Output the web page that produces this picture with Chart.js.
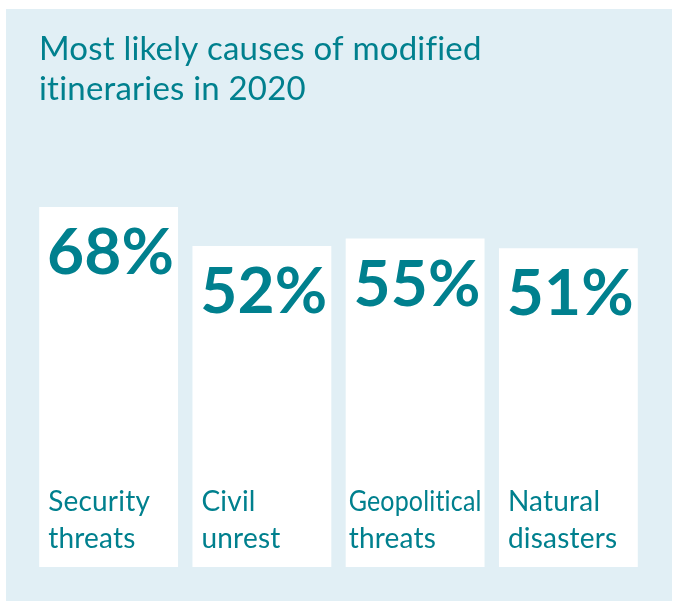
<!DOCTYPE html>
<html>
<head>
<meta charset="utf-8">
<script src="https://cdn.jsdelivr.net/npm/chart.js@4"></script>
<style>
  html, body { margin: 0; padding: 0; background: #ffffff; }
  #wrap { width: 676px; height: 603px; position: relative; }
</style>
</head>
<body>
<div id="wrap"><canvas id="causes"></canvas></div>
<script>
// datos del gráfico
const titleLines = ['Most likely causes of modified', 'itineraries in 2020'];
const categories = [['Security', 'threats'], ['Civil', 'unrest'], ['Geopolitical', 'threats'], ['Natural', 'disasters']];
const percentages = [68, 52, 55, 51];

const TEAL = '#00808e';
const PANEL = '#e1eff5';

// fondo azul claro + título
const panelPlugin = {
    id: 'panel',
    beforeDraw(chart) {
        const ctx = chart.ctx;
        ctx.save();
        ctx.fillStyle = PANEL;
        ctx.fillRect(6, 9, 666, 592);
        ctx.fillStyle = TEAL;
        ctx.font = '33px Lato';
        ctx.letterSpacing = '0.2px'; // evita las ligaduras "ti"
        ctx.textBaseline = 'alphabetic';
        ctx.textAlign = 'left';
        titleLines.forEach((line, i) => ctx.fillText(line, 39, 60 + i * 40));
        ctx.restore();
    }
};

// etiquetas dentro de cada barra
const labelsPlugin = {
    id: 'barLabels',
    afterDatasetsDraw(chart) {
        const ctx = chart.ctx;
        const meta = chart.getDatasetMeta(0);
        ctx.save();
        ctx.fillStyle = TEAL;
        ctx.letterSpacing = '0.2px';
        meta.data.forEach((bar, i) => {
            const left = bar.x - bar.width / 2;
            ctx.font = 'bold 64px Lato';
            ctx.textAlign = 'center';
            ctx.textBaseline = 'alphabetic';
            ctx.fillText(percentages[i] + '%', bar.x + 2, bar.y + 67);
            ctx.font = '28px Lato';
            ctx.textAlign = 'left';
            const widest = Math.max(...categories[i].map(l => ctx.measureText(l).width));
            const x = widest > bar.width - 18 ? left + 3 : left + 9;
            categories[i].forEach((line, j) => {
                ctx.fillText(line, x, bar.base - 56 + j * 37, bar.width - 6);
            });
        });
        ctx.restore();
    }
};

new Chart(document.getElementById('causes'), {
    type: 'bar',
    data: {
        labels: categories.map(c => c.join(' ')),
        datasets: [{
            data: percentages,
            base: -80,
            backgroundColor: '#ffffff',
            borderWidth: 0,
            categoryPercentage: 1,
            barPercentage: 0.906
        }]
    },
    options: {
        responsive: true,
        maintainAspectRatio: false,
        animation: false,
        layout: { padding: { left: 32, right: 31, top: 207, bottom: 36 } },
        plugins: { legend: { display: false }, tooltip: { enabled: false }, title: { display: false } },
        scales: {
            x: { display: false },
            y: { display: false, min: -80, max: 68 }
        }
    },
    plugins: [panelPlugin, labelsPlugin]
});
</script>
</body>
</html>
